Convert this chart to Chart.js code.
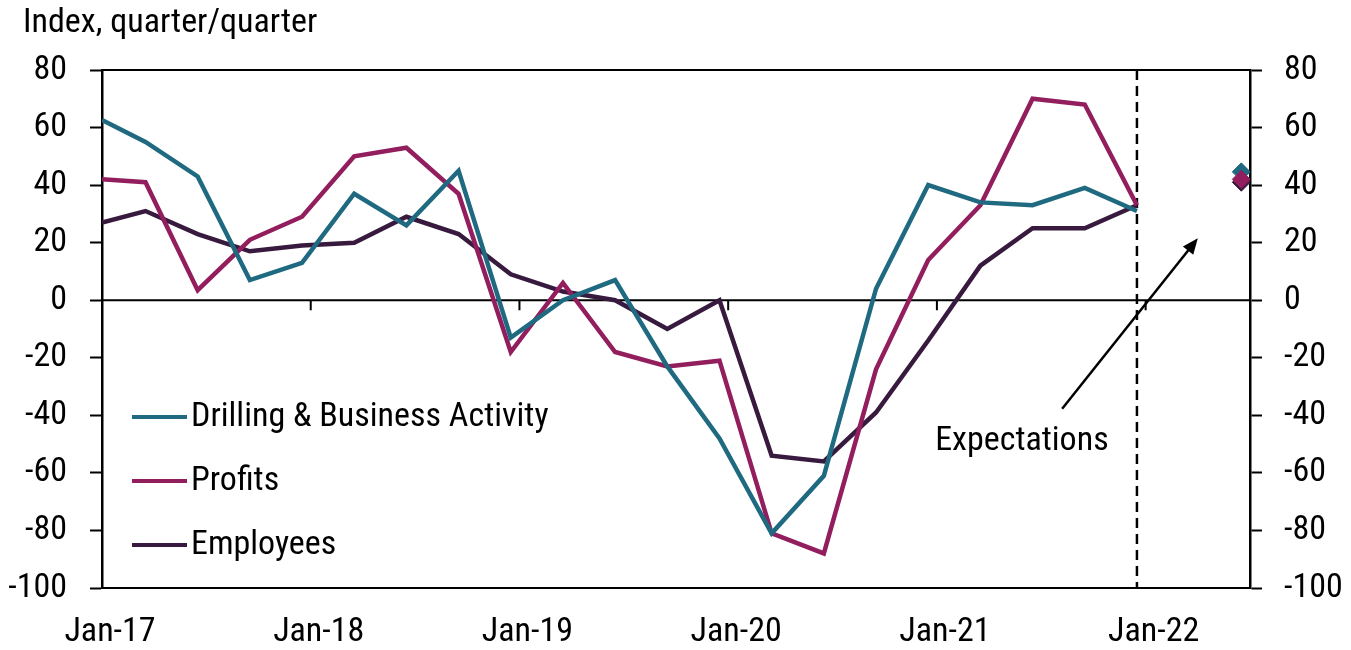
<!DOCTYPE html>
<html>
<head>
<meta charset="utf-8">
<script src="https://cdn.jsdelivr.net/npm/chart.js@4.4.1/dist/chart.umd.min.js"></script>
<style>
  html, body { margin: 0; padding: 0; background: #fff; }
  #chart { display: block; }
</style>
</head>
<body>
<canvas id="chart" width="1351" height="650"></canvas>
<script>
// quarterly readings, x in months since Jan-17
var months = [0, 2.5, 5.5, 8.5, 11.5, 14.5, 17.5, 20.5, 23.5, 26.5, 29.5, 32.5, 35.5, 38.5, 41.5, 44.5, 47.5, 50.5, 53.5, 56.5, 59.5];
var drilling = [62.6, 55, 43, 7, 13, 37, 26, 45, -13, 0, 7, -23, -48, -81, -61, 4, 40, 34, 33, 39, 31];
var profits = [42, 41, 3.5, 21, 29, 50, 53, 37, -18, 6, -18, -23, -21, -81, -88, -24, 14, 33, 70, 68, 33];
var employees = [27, 31, 23, 17, 19, 20, 29, 23, 9, 3, 0, -10, 0, -54, -56, -39, -14, 12, 25, 25, 33];

// expectations point
var expMonth = 65.5;
var expDrilling = 44.6;
var expProfits = 42;
var expEmployees = 41;

var lastActual = 59.5;
var tickMonths = [0, 12, 24, 36, 48, 60];
var tickLabels = ['Jan-17', 'Jan-18', 'Jan-19', 'Jan-20', 'Jan-21', 'Jan-22'];

var COLORS = { teal: '#1F6A80', magenta: '#921E5E', purple: '#371A3E' };
var NARROW = "'Roboto Condensed', 'Liberation Sans Narrow', 'Arial Narrow', sans-serif";
var FONT_SIZE = 34;

Chart.defaults.font.family = NARROW;
Chart.defaults.font.size = FONT_SIZE;
Chart.defaults.color = '#000';

function toPoints(values) {
  return values.map(function(v, i) { return { x: months[i], y: v }; });
}

function lineSet(label, values, color) {
  return {
    label: label,
    data: toPoints(values),
    borderColor: color,
    backgroundColor: color,
    borderWidth: 4.5,
    pointRadius: 0,
    fill: false,
    order: 0
  };
}

function diamond(value, color, order) {
  return {
    label: '',
    data: [{ x: expMonth, y: value }],
    showLine: false,
    pointStyle: 'rectRot',
    pointRadius: 9,
    backgroundColor: color,
    borderColor: color,
    borderWidth: 1,
    order: order
  };
}

// zero line, frame top, x ticks on the zero line and the dashed divider
var framePlugin = {
  id: 'frame',
  beforeDatasetsDraw: function(chart) {
    var ctx = chart.ctx, a = chart.chartArea;
    var x = chart.scales.x, y = chart.scales.y;
    var y0 = y.getPixelForValue(0);
    ctx.save();
    ctx.strokeStyle = '#000';
    ctx.lineWidth = 2;
    ctx.beginPath();
    ctx.moveTo(a.left, a.top);
    ctx.lineTo(a.right, a.top);
    ctx.moveTo(a.left, y0);
    ctx.lineTo(a.right, y0);
    tickMonths.forEach(function(m) {
      var px = x.getPixelForValue(m);
      ctx.moveTo(px, y0);
      ctx.lineTo(px, y0 + 10);
    });
    ctx.stroke();

    var dx = x.getPixelForValue(lastActual);
    ctx.lineWidth = 2.5;
    ctx.setLineDash([10, 6]);
    ctx.beginPath();
    ctx.moveTo(dx, a.top);
    ctx.lineTo(dx, a.bottom);
    ctx.stroke();
    ctx.restore();
  }
};

// title, legend inside the plot and the "Expectations" arrow
var titleText = 'Index, quarter/quarter';
var legendRows = [417, 481, 545];
var arrowFrom = { x: 55.2, y: -37.7 };
var arrowTo = { x: 63.0, y: 21.5 };
var noteAt = { x: 47.9, y: -49 };

var notesPlugin = {
  id: 'notes',
  afterDraw: function(chart) {
    var ctx = chart.ctx;
    var x = chart.scales.x, y = chart.scales.y;
    ctx.save();
    ctx.font = FONT_SIZE + 'px ' + NARROW;
    ctx.textBaseline = 'middle';
    ctx.fillStyle = '#000';
    ctx.fillText(titleText, 23, 23);

    for (var i = 0; i < 3; i++) {
      var ds = chart.data.datasets[i];
      ctx.strokeStyle = ds.borderColor;
      ctx.lineWidth = 4;
      ctx.beginPath();
      ctx.moveTo(132, legendRows[i]);
      ctx.lineTo(187, legendRows[i]);
      ctx.stroke();
      ctx.fillText(ds.label, 191, legendRows[i]);
    }

    ctx.fillText('Expectations', x.getPixelForValue(noteAt.x), y.getPixelForValue(noteAt.y));

    var x1 = x.getPixelForValue(arrowFrom.x), y1 = y.getPixelForValue(arrowFrom.y);
    var x2 = x.getPixelForValue(arrowTo.x), y2 = y.getPixelForValue(arrowTo.y);
    var ang = Math.atan2(y2 - y1, x2 - x1);
    var head = 17;
    ctx.strokeStyle = '#000';
    ctx.lineWidth = 2.5;
    ctx.beginPath();
    ctx.moveTo(x1, y1);
    ctx.lineTo(x2 - Math.cos(ang) * head * 0.8, y2 - Math.sin(ang) * head * 0.8);
    ctx.stroke();
    ctx.beginPath();
    ctx.moveTo(x2, y2);
    ctx.lineTo(x2 - head * Math.cos(ang - 0.4), y2 - head * Math.sin(ang - 0.4));
    ctx.lineTo(x2 - head * Math.cos(ang + 0.4), y2 - head * Math.sin(ang + 0.4));
    ctx.closePath();
    ctx.fill();
    ctx.restore();
  }
};

var yStep = 20;

new Chart(document.getElementById('chart').getContext('2d'), {
  type: 'line',
  data: {
    datasets: [
      lineSet('Drilling & Business Activity', drilling, COLORS.teal),
      lineSet('Profits', profits, COLORS.magenta),
      lineSet('Employees', employees, COLORS.purple),
      diamond(expDrilling, COLORS.teal, -1),
      diamond(expEmployees, COLORS.purple, -2),
      diamond(expProfits, COLORS.magenta, -3)
    ]
  },
  options: {
    responsive: false,
    animation: false,
    layout: { padding: { left: 0, top: 70, right: 0, bottom: 0 } },
    plugins: {
      legend: { display: false },
      tooltip: { enabled: false },
      title: { display: false }
    },
    scales: {
      x: {
        type: 'linear',
        min: 0,
        max: 66,
        position: 'bottom',
        afterBuildTicks: function(s) {
          s.ticks = tickMonths.map(function(m) { return { value: m }; });
        },
        afterFit: function(s) { s.height = 62; },
        grid: { display: false, drawTicks: false },
        border: { display: true, color: '#000', width: 2 },
        ticks: {
          padding: 24,
          labelOffset: 8,
          maxRotation: 0,
          autoSkip: false,
          callback: function(v) { return tickLabels[tickMonths.indexOf(v)]; }
        }
      },
      y: {
        min: -100,
        max: 80,
        position: 'left',
        afterFit: function(s) { s.width = 102; },
        grid: { drawOnChartArea: false, tickLength: 12, tickColor: '#000', tickWidth: 2 },
        border: { color: '#000', width: 2.5 },
        ticks: { stepSize: yStep, padding: 23 }
      },
      y2: {
        min: -100,
        max: 80,
        position: 'right',
        afterFit: function(s) { s.width = 101; },
        grid: { drawOnChartArea: false, tickLength: 12, tickColor: '#000', tickWidth: 2 },
        border: { color: '#000', width: 2.5 },
        ticks: { stepSize: yStep, padding: 22 }
      }
    }
  },
  plugins: [framePlugin, notesPlugin]
});
</script>
</body>
</html>
